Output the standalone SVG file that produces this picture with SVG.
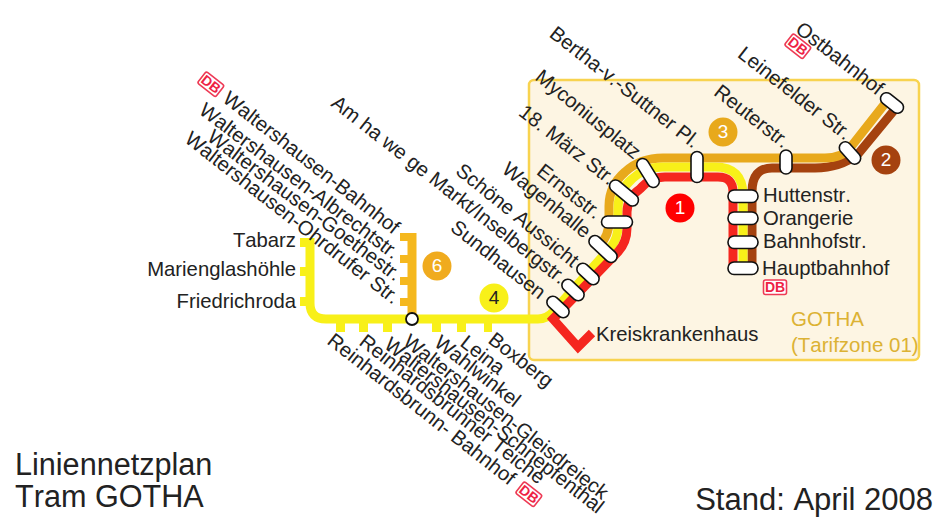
<svg xmlns="http://www.w3.org/2000/svg" width="950" height="531" viewBox="0 0 950 531">
<style>
text{font-family:"Liberation Sans",Arial,sans-serif;fill:#222;font-kerning:none}
.l{font-size:20.300px}
.r{text-anchor:end}
.ln{fill:none;stroke-width:9}
.st{fill:#fff;stroke:#111;stroke-width:1.6}
.c{font-size:19px;text-anchor:middle;fill:#fff}
.db{fill:#fff;stroke:#ee3a55;stroke-width:1.6}
.dbt{font-size:14px;font-weight:bold;text-anchor:middle;fill:#ee2244}
.t{font-size:30.600px}
.z{font-size:20.500px;fill:#dcb234}
</style>
<rect id="zone" x="529" y="80" width="390" height="280" rx="5" fill="#fdf5e3" stroke="#f8d34f" stroke-width="2.5"/>
<g id="connectors">
<path class="ln" stroke="#a5420f" d="M752,268V192Q752,168 772,168H815Q840,168 858,154L896,108"/>
<path class="ln" stroke="#e8a91c" d="M600,245Q609,235 609,222V206Q609,186 625,172Q640,158 663,158H825Q842,158 850,148L887,101"/>
<path class="ln" stroke="#f8f019" d="M310,238V303Q310,319 326,319H538Q547,319 553,312L610,248Q618,239 618,226V208Q618,191 632,179Q645,167 662,167H715Q743,167 743,195V268"/>
<path class="ln" stroke="#f5261f" d="M592,333L578,347L553,319L618,252Q627,242 627,228V212Q627,198 640,189Q650,177 665,177H718Q733,177 733,192V268"/>
<path class="ln" stroke="#f5b81e" d="M412,319V233"/>
<path fill="#f5b81e" d="M400,233h10v8h-10zM400,255h10v8h-10zM400,277h10v8h-10zM400,298h10v8h-10z"/>
<path fill="#f8f019" d="M300,238h8v9h-8zM300,267h8v9h-8zM300,297h8v9h-8zM336,322h9v10h-9zM359,322h9v10h-9zM383,322h9v10h-9zM432,322h9v10h-9zM457,322h9v10h-9zM484,322h8v10h-8z"/>
</g>
<g id="line1"><circle cx="680" cy="208" r="14.5" fill="#f00"/><text class="c" x="680" y="214">1</text></g>
<g id="line2"><circle cx="886" cy="160" r="14.5" fill="#a5420f"/><text class="c" x="886" y="166">2</text></g>
<g id="line3"><circle cx="723" cy="132" r="14.5" fill="#e8a91c"/><text class="c" x="723" y="138">3</text></g>
<g id="line4"><circle cx="494" cy="298" r="14.5" fill="#f8f019"/><text class="c" x="494" y="304" style="fill:#222">4</text></g>
<g id="line6"><circle cx="437" cy="266" r="14.5" fill="#f0ab1e"/><text class="c" x="437" y="272">6</text></g>
<g id="ostbahnhof"><rect class="st" x="-13" y="-6" width="26" height="12" rx="6" transform="translate(892,103) rotate(38)"/><text class="l r" transform="translate(877,96) rotate(38)">Ostbahnhof</text></g>
<g id="leinefelder"><rect class="st" x="-13" y="-6" width="26" height="12" rx="6" transform="translate(850,153) rotate(48)"/><text class="l r" transform="translate(845,141) rotate(38)">Leinefelder Str.</text></g>
<g id="reuterstr"><rect class="st" x="-6" y="-12" width="12" height="24" rx="6" transform="translate(786,162)"/><text class="l r" transform="translate(783,149) rotate(38)">Reuterstr.</text></g>
<g id="bertha"><rect class="st" x="-6" y="-15.500" width="12" height="31" rx="6" transform="translate(697,167)"/><text class="l r" transform="translate(693,149) rotate(38)">Bertha-v.-Suttner Pl.</text></g>
<g id="myconius"><rect class="st" x="-16" y="-6" width="32" height="12" rx="6" transform="translate(648,173) rotate(58)"/><text class="l r" transform="translate(634,160) rotate(39)">Myconiusplatz</text></g>
<g id="maerz"><rect class="st" x="-17" y="-6" width="34" height="12" rx="6" transform="translate(624,193) rotate(40)"/><text class="l r" transform="translate(609,186) rotate(38)">18. März Str.</text></g>
<g id="ernststr"><rect class="st" x="-15.500" y="-6" width="31" height="12" rx="6" transform="translate(617,222)"/><text class="l r" transform="translate(595,220) rotate(38)">Ernststr.</text></g>
<g id="wagenhalle"><rect class="st" x="-17" y="-6" width="34" height="12" rx="6" transform="translate(603,249) rotate(43)"/><text class="l r" transform="translate(584,239) rotate(39)">Wagenhalle</text></g>
<g id="aussicht"><rect class="st" x="-13" y="-6" width="26" height="12" rx="6" transform="translate(588,274) rotate(43)"/><text class="l r" transform="translate(572,268) rotate(39)">Schöne Aussicht</text></g>
<g id="inselberg"><rect class="st" x="-13" y="-6" width="26" height="12" rx="6" transform="translate(573,290) rotate(43)"/><text class="l r" transform="translate(560,285) rotate(38)">Am ha we ge Markt/Inselbergstr.</text></g>
<g id="sundhausen"><rect class="st" x="-13" y="-6" width="26" height="12" rx="6" transform="translate(558,307) rotate(43)"/><text class="l r" transform="translate(539,300) rotate(38)">Sundhausen</text></g>
<g id="huttenstr"><rect class="st" x="728" y="190" width="30" height="12.500" rx="6"/><text class="l" x="763" y="202">Huttenstr.</text></g>
<g id="orangerie"><rect class="st" x="728" y="212" width="30" height="12.500" rx="6"/><text class="l" x="763" y="225">Orangerie</text></g>
<g id="bahnhofstr"><rect class="st" x="728" y="236" width="30" height="12.500" rx="6"/><text class="l" x="763" y="248">Bahnhofstr.</text></g>
<g id="hauptbahnhof"><rect class="st" x="728" y="262" width="30" height="12.500" rx="6"/><text class="l" x="762" y="275">Hauptbahnhof</text></g>
<g id="db-haupt"><rect class="db" x="763.500" y="280" width="23" height="14.500" rx="2"/><text class="dbt" x="775" y="292">DB</text></g>
<g id="db-ost" transform="translate(798,46) rotate(38)"><rect class="db" x="-11.500" y="-7" width="23" height="14.500" rx="2"/><text class="dbt" x="0" y="5">DB</text></g>
<g id="db-walt" transform="translate(211,84) rotate(38)"><rect class="db" x="-11.500" y="-7" width="23" height="14.500" rx="2"/><text class="dbt" x="0" y="5">DB</text></g>
<g id="db-rein" transform="translate(529,494) rotate(38)"><rect class="db" x="-11.500" y="-7" width="23" height="14.500" rx="2"/><text class="dbt" x="0" y="5">DB</text></g>
<g id="kreiskrankenhaus"><text class="l" x="596" y="341">Kreiskrankenhaus</text></g>
<g id="tabarz"><text class="l r" x="296" y="247">Tabarz</text></g>
<g id="marienglas"><text class="l r" x="296" y="276">Marienglashöhle</text></g>
<g id="friedrichroda"><text class="l r" x="296" y="308">Friedrichroda</text></g>
<g id="w-bahnhof"><text class="l r" transform="translate(393,235) rotate(38)">Waltershausen-Bahnhof</text></g>
<g id="w-albrecht"><text class="l r" transform="translate(393,260) rotate(37)">Waltershausen-Albrechtstr.</text></g>
<g id="w-goethe"><text class="l r" transform="translate(395,282) rotate(37)">Waltershausen-Goethestr.</text></g>
<g id="w-ohrdruf"><text class="l r" transform="translate(393,305) rotate(38)">Waltershausen-Ohrdrufer Str.</text></g>
<g id="junction"><circle cx="412" cy="319" r="6" fill="#fff" stroke="#111" stroke-width="1.800"/></g>
<g id="boxberg"><text class="l" transform="translate(487,342) rotate(38)">Boxberg</text></g>
<g id="leina"><text class="l" transform="translate(459,345) rotate(38)">Leina</text></g>
<g id="wahlwinkel"><text class="l" transform="translate(433,345) rotate(38)">Wahlwinkel</text></g>
<g id="w-gleis"><text class="l" transform="translate(402,344) rotate(38)">Waltershausen-Gleisdreieck</text></g>
<g id="w-schnepf"><text class="l" transform="translate(383,347) rotate(38)">Waltershausen-Schnepfenthal</text></g>
<g id="r-teiche"><text class="l" transform="translate(358,344) rotate(38)">Reinhardsbrunner Teiche</text></g>
<g id="r-bahnhof"><text class="l" transform="translate(326,343) rotate(38)">Reinhardsbrunn- Bahnhof</text></g>
<text class="z" x="791" y="326">GOTHA</text>
<text class="z" x="791" y="352">(Tarifzone 01)</text>
<text class="t" x="15" y="475">Liniennetzplan</text>
<text class="t" x="15" y="507">Tram GOTHA</text>
<text class="t r" x="933" y="510" style="font-size:31px">Stand: April 2008</text>
</svg>
